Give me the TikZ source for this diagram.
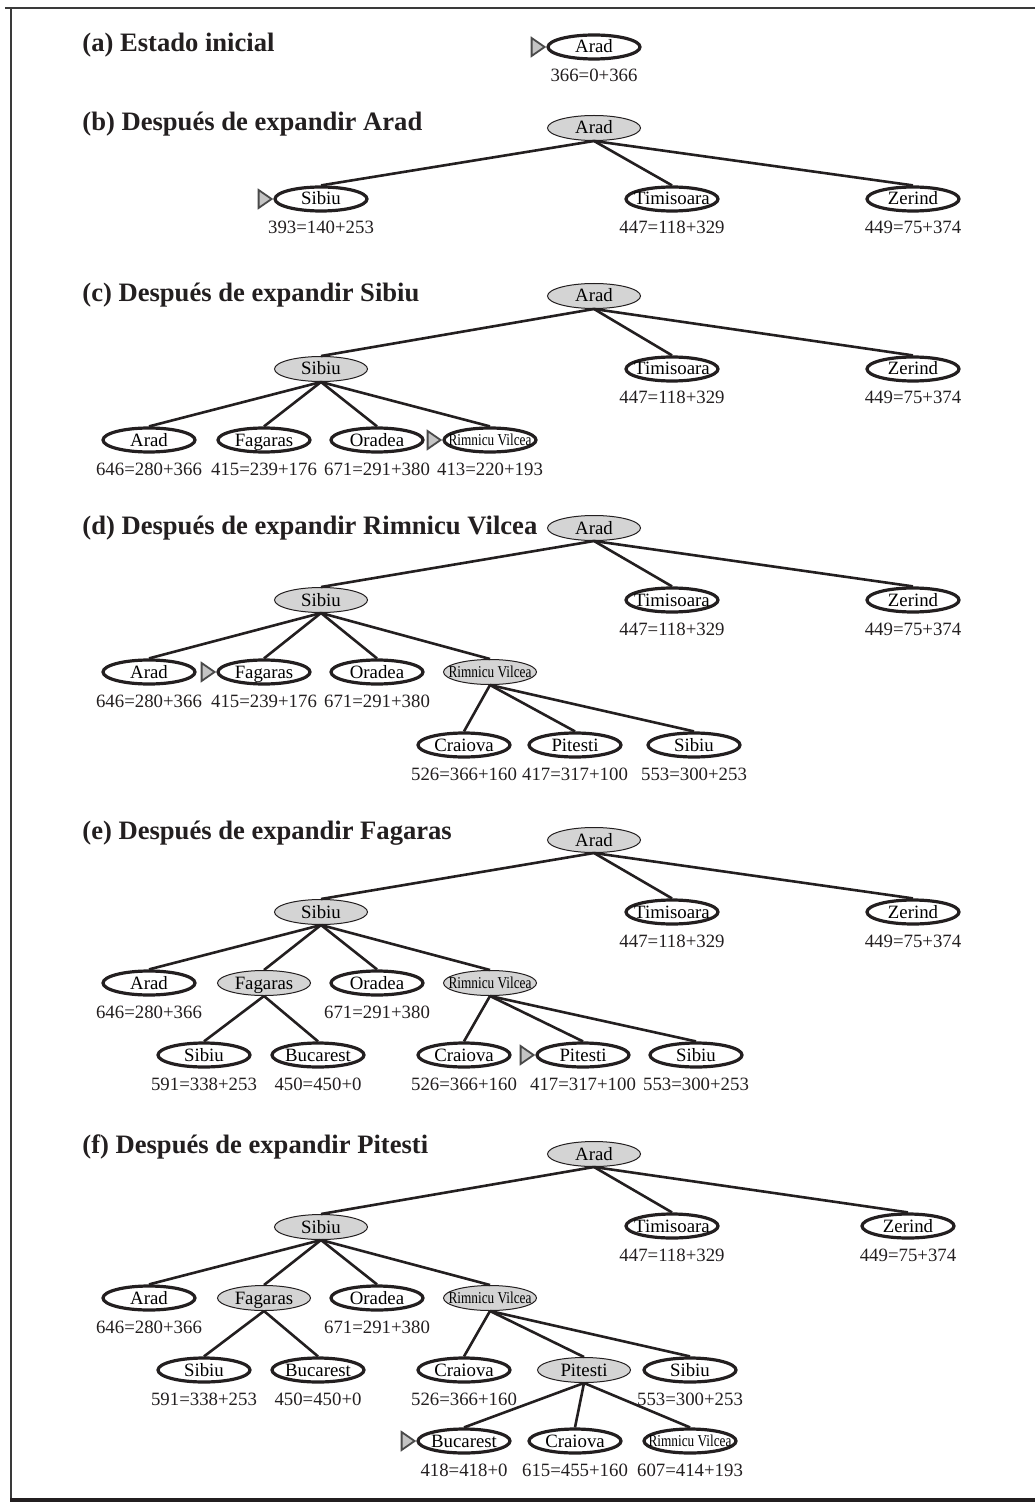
\documentclass[tikz,border=0pt]{standalone}
\usepackage{fontspec}
\usepackage{graphicx}
\setmainfont{Liberation Serif}
\usetikzlibrary{shapes.geometric}
\definecolor{ink}{HTML}{231F20}
\definecolor{nodegrey}{HTML}{D4D4D4}
\definecolor{mkgrey}{HTML}{C4C4C4}
\definecolor{mkdark}{HTML}{4A4A4A}
\definecolor{framegrey}{HTML}{3A3A3A}
\newcommand\nt[1]{\smash{\makebox[0pt]{\raisebox{-3pt}{#1}}}}
\newcommand\rv{\smash{\makebox[0pt]{\raisebox{-2.7pt}{\scalebox{0.8}[1]{\fontsize{8.3}{10}\selectfont Rimnicu Vilcea}}}}}
\newcommand\lab[2]{\node[lbl] (#1-l) at ([yshift=-17.5pt]#1.center) {#2};}
\newcommand\startmk[1]{\draw[mk] ([xshift=-0.9pt]#1.west) -- ++(-13,-9) -- ++(0,18) -- cycle;}
\newcommand\edg[2]{\draw[edge] (#1.south) -- (#2.north);}
\tikzset{
  opennode/.style={ellipse, draw=ink, line width=1.6pt, minimum width=46pt, minimum height=12pt, inner sep=0pt, font=\fontsize{9.4}{11}\selectfont},
  closednode/.style={ellipse, draw=ink, fill=nodegrey, line width=0.5pt, minimum width=46.5pt, minimum height=12.5pt, inner sep=0pt, font=\fontsize{9.4}{11}\selectfont},
  lbl/.style={anchor=base, inner sep=0pt, font=\fontsize{9.4}{11}\selectfont, text=ink},
  edge/.style={draw=ink, line width=1.3pt},
  mk/.style={draw=mkdark, fill=mkgrey, line width=0.9pt, line join=miter},
  ttl/.style={anchor=base west, inner sep=0pt, font=\fontsize{13.3}{16}\selectfont\bfseries, text=ink}
}
\begin{document}
\begin{tikzpicture}[x=0.5pt,y=-0.5pt]
\useasboundingbox (0,0) rectangle (1035,1502);
% frame
\draw[framegrey, line width=1pt] (5,8) -- (1035,8);
\draw[framegrey, line width=1pt] (11,8) -- (11,1498);
\draw[ink, line width=2pt] (10,1499.5) -- (1035,1499.5);

% (a)
\node[ttl] (ta) at (82,52) {(a) Estado inicial};
\node[opennode] (a0) at (594,47) {\nt{Arad}};
\lab{a0}{366=0+366}
\startmk{a0}

% (b)
\node[ttl] (tb) at (82,131) {(b) Después de expandir Arad};
\node[closednode] (b0) at (594,128) {\nt{Arad}};
\node[opennode] (b1) at (321,199) {\nt{Sibiu}};
\node[opennode] (b2) at (672,199) {\nt{Timisoara}};
\node[opennode] (b3) at (913,199) {\nt{Zerind}};
\lab{b1}{393=140+253}
\lab{b2}{447=118+329}
\lab{b3}{449=75+374}
\startmk{b1}
\edg{b0}{b1}\edg{b0}{b2}\edg{b0}{b3}

% (c)
\node[ttl] (tc) at (82,302) {(c) Después de expandir Sibiu};
\node[closednode] (c0) at (594,296) {\nt{Arad}};
\node[closednode] (c1) at (321,369) {\nt{Sibiu}};
\node[opennode] (c2) at (672,369) {\nt{Timisoara}};
\node[opennode] (c3) at (913,369) {\nt{Zerind}};
\lab{c2}{447=118+329}
\lab{c3}{449=75+374}
\node[opennode] (c11) at (149,440) {\nt{Arad}};
\node[opennode] (c12) at (264,440) {\nt{Fagaras}};
\node[opennode] (c13) at (377,440) {\nt{Oradea}};
\node[opennode] (c14) at (490,440) {\rv};
\lab{c11}{646=280+366}
\lab{c12}{415=239+176}
\lab{c13}{671=291+380}
\lab{c14}{413=220+193}
\startmk{c14}
\edg{c0}{c1}\edg{c0}{c2}\edg{c0}{c3}
\edg{c1}{c11}\edg{c1}{c12}\edg{c1}{c13}\edg{c1}{c14}

% (d)
\node[ttl] (td) at (82,534) {(d) Después de expandir Rimnicu Vilcea};
\node[closednode] (d0) at (594,528) {\nt{Arad}};
\node[closednode] (d1) at (321,600) {\nt{Sibiu}};
\node[opennode] (d2) at (672,600) {\nt{Timisoara}};
\node[opennode] (d3) at (913,600) {\nt{Zerind}};
\lab{d2}{447=118+329}
\lab{d3}{449=75+374}
\node[opennode] (d11) at (149,672) {\nt{Arad}};
\node[opennode] (d12) at (264,672) {\nt{Fagaras}};
\node[opennode] (d13) at (377,672) {\nt{Oradea}};
\node[closednode] (d14) at (490,672) {\rv};
\lab{d11}{646=280+366}
\lab{d12}{415=239+176}
\lab{d13}{671=291+380}
\startmk{d12}
\node[opennode] (d141) at (464,745) {\nt{Craiova}};
\node[opennode] (d142) at (575,745) {\nt{Pitesti}};
\node[opennode] (d143) at (694,745) {\nt{Sibiu}};
\lab{d141}{526=366+160}
\lab{d142}{417=317+100}
\lab{d143}{553=300+253}
\edg{d0}{d1}\edg{d0}{d2}\edg{d0}{d3}
\edg{d1}{d11}\edg{d1}{d12}\edg{d1}{d13}\edg{d1}{d14}
\edg{d14}{d141}\edg{d14}{d142}\edg{d14}{d143}

% (e)
\node[ttl] (te) at (82,839) {(e) Después de expandir Fagaras};
\node[closednode] (e0) at (594,840) {\nt{Arad}};
\node[closednode] (e1) at (321,912) {\nt{Sibiu}};
\node[opennode] (e2) at (672,912) {\nt{Timisoara}};
\node[opennode] (e3) at (913,912) {\nt{Zerind}};
\lab{e2}{447=118+329}
\lab{e3}{449=75+374}
\node[opennode] (e11) at (149,983) {\nt{Arad}};
\node[closednode] (e12) at (264,983) {\nt{Fagaras}};
\node[opennode] (e13) at (377,983) {\nt{Oradea}};
\node[closednode] (e14) at (490,983) {\rv};
\lab{e11}{646=280+366}
\lab{e13}{671=291+380}
\node[opennode] (e121) at (204,1055) {\nt{Sibiu}};
\node[opennode] (e122) at (318,1055) {\nt{Bucarest}};
\lab{e121}{591=338+253}
\lab{e122}{450=450+0}
\node[opennode] (e141) at (464,1055) {\nt{Craiova}};
\node[opennode] (e142) at (583,1055) {\nt{Pitesti}};
\node[opennode] (e143) at (696,1055) {\nt{Sibiu}};
\lab{e141}{526=366+160}
\lab{e142}{417=317+100}
\lab{e143}{553=300+253}
\startmk{e142}
\edg{e0}{e1}\edg{e0}{e2}\edg{e0}{e3}
\edg{e1}{e11}\edg{e1}{e12}\edg{e1}{e13}\edg{e1}{e14}
\edg{e12}{e121}\edg{e12}{e122}
\edg{e14}{e141}\edg{e14}{e142}\edg{e14}{e143}

% (f)
\node[ttl] (tf) at (82,1153) {(f) Después de expandir Pitesti};
\node[closednode] (f0) at (594,1154) {\nt{Arad}};
\node[closednode] (f1) at (321,1227) {\nt{Sibiu}};
\node[opennode] (f2) at (672,1226) {\nt{Timisoara}};
\node[opennode] (f3) at (908,1226) {\nt{Zerind}};
\lab{f2}{447=118+329}
\lab{f3}{449=75+374}
\node[opennode] (f11) at (149,1298) {\nt{Arad}};
\node[closednode] (f12) at (264,1298) {\nt{Fagaras}};
\node[opennode] (f13) at (377,1298) {\nt{Oradea}};
\node[closednode] (f14) at (490,1298) {\rv};
\lab{f11}{646=280+366}
\lab{f13}{671=291+380}
\node[opennode] (f121) at (204,1370) {\nt{Sibiu}};
\node[opennode] (f122) at (318,1370) {\nt{Bucarest}};
\lab{f121}{591=338+253}
\lab{f122}{450=450+0}
\node[opennode] (f141) at (464,1370) {\nt{Craiova}};
\node[closednode] (f142) at (584,1370) {\nt{Pitesti}};
\node[opennode] (f143) at (690,1370) {\nt{Sibiu}};
\lab{f141}{526=366+160}
\lab{f143}{553=300+253}
\node[opennode] (f1421) at (464,1441) {\nt{Bucarest}};
\node[opennode] (f1422) at (575,1441) {\nt{Craiova}};
\node[opennode] (f1423) at (690,1441) {\rv};
\lab{f1421}{418=418+0}
\lab{f1422}{615=455+160}
\lab{f1423}{607=414+193}
\startmk{f1421}
\edg{f0}{f1}\edg{f0}{f2}\edg{f0}{f3}
\edg{f1}{f11}\edg{f1}{f12}\edg{f1}{f13}\edg{f1}{f14}
\edg{f12}{f121}\edg{f12}{f122}
\edg{f14}{f141}\edg{f14}{f142}\edg{f14}{f143}
\edg{f142}{f1421}\edg{f142}{f1422}\edg{f142}{f1423}
\end{tikzpicture}
\end{document}
